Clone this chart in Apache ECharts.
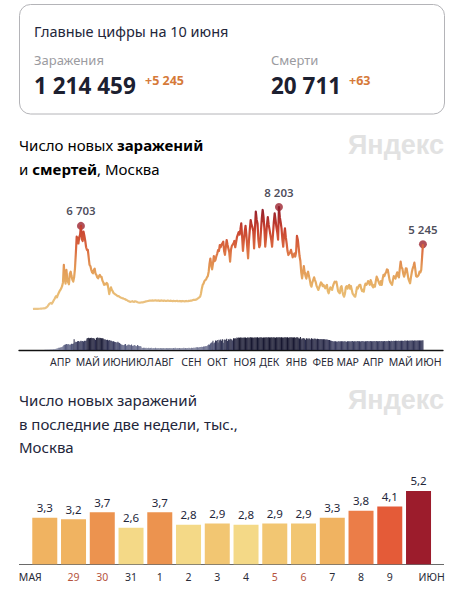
<![CDATA[<!DOCTYPE html>
<html><head><meta charset="utf-8">
<style>html,body{margin:0;padding:0;background:#fff}#c{width:463px;height:600px}</style>
<script src="https://cdn.jsdelivr.net/npm/echarts@6/dist/echarts.min.js"></script>
</head><body><div id="c"></div>
<script>
// Daily figures from 12 March 2020 (index 0) to 10 June 2021 (index 455)
const newCases = [
80,85,85,90,90,95,95,100,100,110,
110,120,130,130,140,180,220,280,380,480,
530,560,500,600,750,860,1000,1100,1000,1200,
1350,1500,1600,1730,1900,2200,3590,2600,2100,3190,
2500,2200,2050,2900,3050,2700,2400,2260,2600,3300,
4500,5840,5700,5300,5800,6000,6703,5630,5500,6240,
5900,5500,5000,4780,4800,4200,3590,3500,3200,3000,
2920,3200,3300,2900,2800,2600,2520,2700,2800,2650,
2650,2350,2200,2000,2100,2050,2150,2070,1700,1270,
1600,1800,1600,1500,1350,1300,1250,1200,1150,1100,
1100,1050,1000,980,950,930,900,880,840,800,
780,720,700,660,650,680,700,660,640,700,
680,650,620,600,580,590,600,610,610,620,
650,660,690,700,720,730,740,750,740,760,
750,740,760,770,750,740,760,750,730,750,
760,740,730,750,740,720,730,750,740,720,
730,740,720,710,730,720,710,720,730,710,
700,720,710,690,710,720,700,690,710,720,
700,710,730,720,750,740,770,800,800,810,
830,850,900,950,1000,1060,1300,1700,2000,2100,
2300,2380,2440,2600,2700,3050,3700,4100,3600,3240,
3700,4300,3900,4000,4300,4500,4780,4700,5180,5000,
5200,5300,5445,4700,4400,5000,5578,5200,4900,4600,
3850,4800,5100,5200,5300,5500,5000,5400,5800,6000,
6200,6000,6400,6900,5900,4700,5500,6200,6700,6000,
5000,4120,5500,6400,7170,6800,6600,6300,4900,6500,
7835,7200,6900,5600,5000,5180,6300,7300,7970,7400,
6500,5040,5800,6800,7400,6800,6400,6000,5600,5040,
6000,7000,7700,7200,6600,6200,5600,8203,7400,7000,
6500,5600,5040,6000,6500,5800,5300,4700,4380,4500,
4600,4800,4500,4200,4400,4500,4250,4600,5900,5600,
5000,4300,3900,3000,2520,3000,3500,3000,2700,2500,
2900,3050,2700,2400,2000,1860,2200,2400,2600,2390,
2200,1900,1750,1600,1800,2000,2200,2120,1900,2000,
1850,1726,1900,2000,1500,1330,1600,1800,1700,1600,
1900,2100,2260,2200,2260,1900,1500,1400,1330,1800,
1900,1500,1200,1060,1300,1800,1900,1700,1900,2000,
1700,1900,1600,1300,1200,1100,1060,1400,1800,1700,
1900,2000,2000,1700,1500,1600,1460,1900,2100,2000,
2100,2300,2200,2000,2390,2200,1900,1800,2000,1860,
2300,2656,2500,2300,2100,2000,2300,2000,2500,2800,
2700,2900,3000,3240,3200,2800,2400,2200,2100,2000,
2400,2700,2600,2500,2800,3000,2700,2600,3300,3850,
3400,3300,2900,2656,2900,3320,3300,2900,2500,2300,
2125,2600,3000,3300,3500,3770,3300,2700,2650,2700,
2800,3050,3000,3200,4200,5245];
const newDeaths = [
0,0,0,0,0,0,0,0,0,0,
0,0,0,0,1,1,1,2,2,2,
3,3,4,4,5,5,6,8,10,12,
14,15,16,18,20,24,30,34,36,38,
36,38,35,34,36,40,38,42,70,48,
54,52,56,58,54,57,60,56,58,55,
60,58,62,74,78,79,76,78,79,75,
78,76,72,65,78,80,79,76,79,78,
75,76,74,68,70,66,65,66,62,64,
60,62,58,55,56,54,52,50,46,54,
48,45,40,36,34,32,30,36,38,28,
30,34,36,32,30,35,28,26,32,30,
26,24,32,28,24,26,22,14,13,15,
14,13,15,12,13,14,12,13,14,12,
12,13,12,14,11,12,13,12,11,13,
12,11,13,12,11,12,13,11,12,13,
12,13,11,12,13,12,14,11,12,13,
12,13,12,11,13,12,14,12,13,12,
13,12,14,13,12,14,13,15,14,15,
16,17,18,16,18,20,19,21,20,22,
22,24,26,24,30,36,34,42,46,50,
60,44,48,62,58,64,48,66,62,68,
60,70,46,66,68,64,72,58,70,66,
72,70,68,62,75,74,76,72,80,78,
80,79,81,80,78,80,79,81,80,78,
80,81,79,80,82,81,80,79,81,80,
81,80,82,79,81,80,82,81,79,80,
81,80,82,81,80,83,81,80,82,81,
80,82,81,79,83,80,82,81,83,80,
82,81,79,83,80,82,81,83,79,81,
82,80,83,81,80,83,78,82,80,83,
76,74,84,70,76,72,78,72,66,76,
74,70,76,72,68,75,72,70,74,72,
73,70,72,71,70,69,71,70,69,70,
69,68,67,68,66,65,64,62,60,58,
56,55,57,56,55,54,56,57,55,56,
57,56,55,57,56,55,54,56,57,56,
55,57,56,58,55,56,57,55,56,58,
57,56,55,57,58,56,57,55,56,57,
58,56,57,56,58,57,56,57,58,56,
57,58,56,57,58,57,56,58,57,56,
58,57,56,58,57,59,58,57,59,58,
57,59,58,60,59,58,60,59,58,60,
59,60,58,60,61,59,60,61,60,59,
61,60,62,61,60,61,62,60,61,62,
61,62,61,62,62,63];
const monthLabels = ['АПР','МАЙ','ИЮН','ИЮЛ','АВГ','СЕН','ОКТ','НОЯ','ДЕК','ЯНВ','ФЕВ','МАР','АПР','МАЙ','ИЮН'];
const monthStartDays = [20,50,81,111,142,173,203,234,264,295,326,354,385,415,446];
const caseLabelDays = [56,287,455];
const deathLabelDays = [312,455];
const dayLabels = ['МАЯ','29','30','31','1','2','3','4','5','6','7','8','9','ИЮН'];
const weekendDays = ['29','30','5','6'];
const lastTwoWeeks = [3.3,3.2,3.7,2.6,3.7,2.8,2.9,2.8,2.9,2.9,3.3,3.8,4.1,5.2];

const fmt = v => String(v).replace(/\B(?=(\d{3})+$)/g,' ');
const F = '"Noto Sans", sans-serif';
const chart = echarts.init(document.getElementById('c'), null, {renderer:'svg', width:463, height:600});

const txt = (x, y, text, size, color, weight, extra) => ({type:'text', x, y, style:Object.assign({text, fontSize:size, fill:color, fontWeight:weight||400, fontFamily:F, verticalAlign:'middle'}, extra||{})});
const rich = {
  o:{fontFamily:F, fontSize:15, fontWeight:700, color:'#DE7B3A'},
  b:{fontFamily:F, fontSize:15, fontWeight:700, color:'#23263a'},
  n:{fontFamily:F, fontSize:15, color:'#23263a'}
};
const mark = y => txt(444, y, 'Яндекс', 27, '#e2e2e2', 700, {align:'right', fontFamily:'"Liberation Sans Narrow","Liberation Sans",sans-serif'});
const rule = (y, stroke, w) => ({type:'line', shape:{x1:19, y1:y, x2:444, y2:y}, style:{stroke, lineWidth:w}});

const graphic = [
  {type:'rect', shape:{x:19.5, y:4.5, width:425, height:109.5, r:11}, style:{fill:'#fff', stroke:'#b4b4b8', lineWidth:1}},
  txt(34, 31, 'Главные цифры на 10 июня', 14.5, '#23263a'),
  txt(34, 60, 'Заражения', 13, '#9b9ba0'),
  txt(34, 85, '1 214 459', 22.5, '#1c2030', 700),
  txt(145, 80, '+5 245', 12.5, '#D67A3A', 700),
  txt(271, 60, 'Смерти', 13, '#9b9ba0'),
  txt(271, 85, '20 711', 22.5, '#1c2030', 700),
  txt(349, 80, '+63', 12.5, '#D67A3A', 700),
  {type:'text', x:19, y:145, style:{text:'{n|Число новых }{o|заражений}', rich, verticalAlign:'middle'}},
  {type:'text', x:19, y:169, style:{text:'{n|и }{b|смертей}{n|, Москва}', rich, verticalAlign:'middle'}},
  mark(145),
  txt(19, 400, 'Число новых заражений', 15, '#23263a'),
  txt(19, 424, 'в последние две недели, тыс.,', 15, '#23263a'),
  txt(19, 447, 'Москва', 15, '#23263a'),
  mark(400),
  rule(564.5, '#6a6a6a', 1.2)
];

const xRange = {min:-16.3, max:478.4};
chart.setOption({
  animation:false,
  graphic,
  grid:[
    {left:19, width:424, top:200, height:110},
    {left:19, width:424, top:320, height:30},
    {left:30.4, width:402.5, top:479.7, height:84.6}
  ],
  xAxis:[
    Object.assign({type:'value', gridIndex:0, show:false, splitLine:{show:false}}, xRange),
    Object.assign({type:'value', gridIndex:1, splitLine:{show:false}, axisTick:{show:false},
      axisLine:{show:true, onZero:false, lineStyle:{color:'#111', width:1.3}},
      axisLabel:{customValues:monthStartDays, align:'left', margin:6, fontSize:10.5, fontFamily:F, color:'#2a2c38',
        formatter:v => monthLabels[monthStartDays.indexOf(v)]}}, xRange),
    {type:'category', gridIndex:2, data:dayLabels.map((d,i) => ({
        value:d,
        textStyle: Object.assign({color: weekendDays.includes(d) ? '#B5533C' : '#2a2c38'},
          i===0 ? {align:'right', padding:[0,3,0,0]} : i===dayLabels.length-1 ? {align:'left'} : {})
      })),
      axisLine:{show:false}, axisTick:{show:false},
      axisLabel:{interval:0, margin:7, fontSize:10.5, fontFamily:F}}
  ],
  yAxis:[
    {type:'value', gridIndex:0, min:0, max:8765, show:false, splitLine:{show:false}},
    {type:'value', gridIndex:1, min:0, max:193.5, show:false, splitLine:{show:false}},
    {type:'value', gridIndex:2, min:0, max:6, show:false, splitLine:{show:false}}
  ],
  visualMap:[
    {type:'continuous', show:false, seriesIndex:0, dimension:1, min:0, max:8203,
      inRange:{color:['#EBC68A','#E8B76C','#E39A56','#DB6A40','#C63F2E','#8E1C2B']}},
    {type:'continuous', show:false, seriesIndex:2, dimension:1, min:0, max:84,
      inRange:{color:['#8f93a8','#6c7090','#4a4f74','#2c2e50','#12122a']}},
    {type:'piecewise', show:false, seriesIndex:4, dimension:1, pieces:[
      {max:2.85, color:'#F4D987'},
      {min:2.85, max:3.0, color:'#F2C672'},
      {min:3.0, max:3.5, color:'#F0B361'},
      {min:3.5, max:3.75, color:'#EC934F'},
      {min:3.75, max:4.0, color:'#EB7D48'},
      {min:4.0, max:4.5, color:'#E45B38'},
      {min:4.5, color:'#9C1C2C'}]}
  ],
  series:[
    {type:'line', xAxisIndex:0, yAxisIndex:0, showSymbol:false, symbol:'none', lineStyle:{width:2.2, join:'round'},
      data:newCases.map((v,i)=>[i,v])},
    {type:'scatter', xAxisIndex:0, yAxisIndex:0, symbolSize:8, itemStyle:{color:'#9C2430'},
      label:{show:true, position:'top', distance:5, fontFamily:F, fontSize:11.5, fontWeight:600, color:'#1c2030',
        formatter:p => fmt(p.value[1])},
      data:caseLabelDays.map(d=>[d,newCases[d]])},
    {type:'bar', xAxisIndex:1, yAxisIndex:1, barWidth:1, data:newDeaths.map((v,i)=>[i,v])},
    {type:'scatter', xAxisIndex:1, yAxisIndex:1, symbolSize:0, itemStyle:{opacity:0},
      label:{show:true, position:'top', distance:5, fontFamily:F, fontSize:11.5, fontWeight:600, color:'#1c2030',
        formatter:p => fmt(p.value[1])},
      data:deathLabelDays.map(d=>[d,newDeaths[d]])},
    {type:'bar', xAxisIndex:2, yAxisIndex:2, barWidth:25,
      label:{show:true, position:'top', distance:4, fontFamily:F, fontSize:11.5, color:'#23263a',
        formatter:p => p.value[1].toFixed(1).replace('.',',')},
      data:lastTwoWeeks.map((v,i)=>[i,v])}
  ]
});
</script></body></html>]]>
